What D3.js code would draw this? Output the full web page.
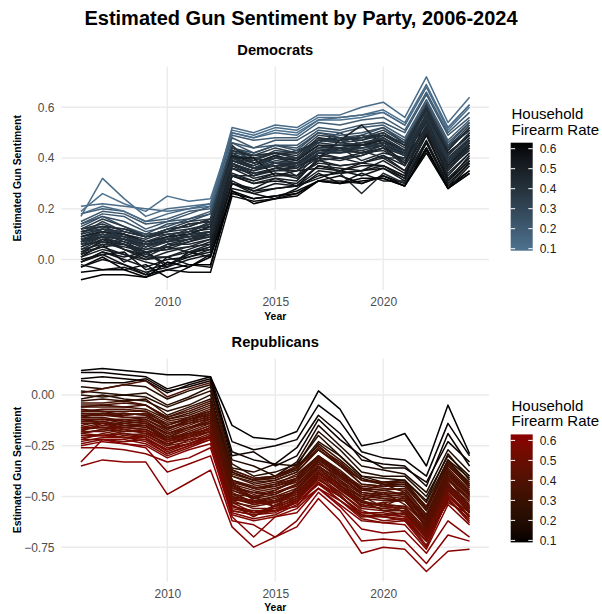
<!DOCTYPE html>
<html>
<head>
<meta charset="utf-8">
<script src="https://cdn.jsdelivr.net/npm/d3@7"></script>
<style>
  body { margin: 0; background: #fff; }
  svg { display: block; font-family: "Liberation Sans", Arial, Helvetica, sans-serif; }
</style>
</head>
<body>
<svg id="chart" width="602" height="614"></svg>
<script>
// ---- data -------------------------------------------------------------
const years = [2006,2007,2008,2009,2010,2011,2012,2013,2014,2015,2016,2017,2018,2019,2020,2021,2022,2023,2024];

const states = ["AL","AK","AZ","AR","CA","CO","CT","DE","FL","GA","HI","ID","IL","IN","IA","KS","KY","LA","ME","MD",
                "MA","MI","MN","MS","MO","MT","NE","NV","NH","NJ","NM","NY","NC","ND","OH","OK","OR","PA","RI","SC",
                "SD","TN","TX","UT","VT","VA","WA","WV","WI","WY"];

const firearmRate = [0.53,0.61,0.40,0.56,0.22,0.40,0.20,0.37,0.33,0.44,0.11,0.57,0.24,0.41,0.44,0.44,0.53,0.50,0.45,0.26,
                     0.12,0.40,0.40,0.56,0.48,0.63,0.40,0.36,0.40,0.09,0.43,0.19,0.43,0.53,0.38,0.50,0.43,0.41,0.12,0.45,
                     0.55,0.49,0.37,0.45,0.50,0.39,0.36,0.59,0.42,0.62];

// estimated sentiment among Democrats, one row per state, one value per year
const demSentiment = [
  [0.01,0.06,-0.01,0.03,-0.02,0.02,0.05,0.30,0.28,0.32,0.29,0.37,0.35,0.38,0.37,0.33,0.50,0.31,0.41],
  [-0.03,0.01,-0.04,-0.02,-0.07,-0.03,0.02,0.27,0.24,0.25,0.27,0.31,0.33,0.30,0.33,0.30,0.46,0.29,0.35],
  [0.07,0.12,0.10,0.05,0.09,0.10,0.13,0.41,0.36,0.40,0.39,0.45,0.43,0.45,0.47,0.41,0.57,0.41,0.49],
  [-0.02,-0.04,-0.03,-0.06,0.01,-0.02,-0.03,0.28,0.26,0.24,0.28,0.34,0.30,0.34,0.31,0.31,0.44,0.28,0.37],
  [0.15,0.19,0.18,0.14,0.15,0.18,0.21,0.48,0.44,0.47,0.47,0.52,0.51,0.53,0.54,0.50,0.65,0.49,0.56],
  [0.11,0.13,0.10,0.08,0.11,0.12,0.14,0.45,0.38,0.41,0.43,0.46,0.50,0.45,0.48,0.43,0.59,0.45,0.51],
  [0.14,0.18,0.17,0.12,0.15,0.16,0.19,0.46,0.44,0.45,0.45,0.51,0.50,0.52,0.53,0.48,0.63,0.47,0.55],
  [0.12,0.13,0.12,0.10,0.11,0.14,0.15,0.42,0.41,0.42,0.40,0.48,0.46,0.47,0.49,0.46,0.58,0.43,0.52],
  [0.10,0.15,0.11,0.09,0.12,0.13,0.16,0.43,0.39,0.43,0.42,0.47,0.47,0.48,0.50,0.45,0.60,0.44,0.51],
  [0.05,0.09,0.04,0.02,0.06,0.06,0.08,0.38,0.33,0.36,0.38,0.40,0.44,0.39,0.42,0.40,0.52,0.36,0.44],
  [0.17,0.32,0.24,0.17,0.20,0.21,0.22,0.51,0.49,0.52,0.51,0.56,0.56,0.57,0.59,0.54,0.69,0.52,0.61],
  [0.00,0.02,0.03,-0.04,-0.02,0.01,0.04,0.30,0.27,0.28,0.29,0.32,0.35,0.33,0.36,0.32,0.47,0.30,0.38],
  [0.14,0.17,0.15,0.11,0.13,0.16,0.18,0.46,0.42,0.45,0.44,0.50,0.49,0.50,0.52,0.47,0.62,0.46,0.54],
  [0.06,0.09,0.08,0.04,0.05,0.08,0.11,0.38,0.35,0.37,0.33,0.42,0.42,0.43,0.40,0.40,0.55,0.38,0.46],
  [0.08,0.10,0.07,0.05,0.07,0.09,0.10,0.39,0.36,0.38,0.38,0.43,0.44,0.42,0.45,0.41,0.54,0.39,0.47],
  [0.04,0.08,0.07,0.03,0.04,0.07,0.10,0.37,0.33,0.36,0.36,0.41,0.40,0.42,0.43,0.38,0.53,0.36,0.45],
  [-0.01,0.03,0.01,0.03,-0.03,0.00,0.02,0.31,0.27,0.30,0.29,0.35,0.34,0.35,0.37,0.32,0.57,0.31,0.39],
  [0.03,0.05,0.06,0.01,0.01,0.04,0.07,0.33,0.31,0.34,0.32,0.39,0.37,0.38,0.41,0.35,0.51,0.33,0.42],
  [0.08,0.10,0.09,0.07,0.08,0.11,0.12,0.40,0.37,0.40,0.38,0.44,0.45,0.44,0.46,0.43,0.56,0.40,0.48],
  [0.13,0.17,0.13,0.10,0.14,0.15,0.18,0.44,0.42,0.45,0.43,0.50,0.48,0.49,0.52,0.46,0.61,0.45,0.54],
  [0.21,0.22,0.21,0.20,0.19,0.20,0.21,0.52,0.50,0.53,0.52,0.57,0.57,0.60,0.62,0.56,0.72,0.54,0.64],
  [0.09,0.11,0.10,0.06,0.09,0.12,0.13,0.42,0.38,0.40,0.40,0.45,0.44,0.46,0.47,0.42,0.57,0.42,0.49],
  [0.11,0.12,0.11,0.09,0.10,0.11,0.15,0.41,0.39,0.42,0.40,0.47,0.46,0.45,0.49,0.44,0.59,0.41,0.50],
  [-0.01,0.02,-0.02,-0.05,-0.03,0.03,0.01,0.30,0.26,0.28,0.29,0.33,0.34,0.35,0.36,0.31,0.46,0.29,0.38],
  [0.03,0.07,0.04,0.00,0.03,0.05,0.06,0.36,0.32,0.34,0.33,0.39,0.40,0.38,0.41,0.37,0.50,0.35,0.44],
  [-0.08,-0.06,-0.06,-0.07,-0.04,-0.02,-0.02,0.27,0.22,0.24,0.25,0.31,0.30,0.31,0.32,0.29,0.42,0.28,0.34],
  [0.07,0.10,0.08,0.05,0.08,0.09,0.11,0.39,0.36,0.37,0.37,0.43,0.43,0.44,0.45,0.41,0.55,0.39,0.47],
  [0.09,0.12,0.10,0.07,0.08,0.11,0.14,0.41,0.40,0.38,0.39,0.47,0.46,0.49,0.47,0.42,0.57,0.41,0.50],
  [0.12,0.14,0.11,0.09,0.12,0.13,0.16,0.44,0.40,0.42,0.42,0.47,0.48,0.47,0.50,0.45,0.59,0.44,0.51],
  [0.19,0.26,0.22,0.19,0.25,0.23,0.24,0.50,0.48,0.51,0.50,0.55,0.55,0.56,0.58,0.53,0.68,0.51,0.60],
  [0.06,0.07,0.06,0.02,0.06,0.08,0.09,0.38,0.34,0.35,0.35,0.42,0.40,0.41,0.44,0.39,0.52,0.37,0.46],
  [0.18,0.20,0.19,0.15,0.16,0.19,0.20,0.49,0.47,0.48,0.48,0.54,0.53,0.55,0.56,0.51,0.66,0.50,0.58],
  [0.07,0.09,0.06,0.04,0.07,0.08,0.10,0.37,0.35,0.38,0.36,0.42,0.43,0.42,0.44,0.41,0.54,0.37,0.46],
  [0.02,0.05,0.02,-0.01,-0.03,0.03,0.04,0.33,0.30,0.31,0.30,0.37,0.36,0.35,0.39,0.34,0.49,0.32,0.40],
  [0.08,0.11,0.08,0.06,0.07,0.10,0.11,0.40,0.36,0.39,0.38,0.44,0.44,0.45,0.45,0.42,0.56,0.39,0.48],
  [0.01,0.04,0.02,0.00,0.01,0.03,0.05,0.33,0.30,0.32,0.31,0.40,0.47,0.53,0.45,0.38,0.57,0.37,0.45],
  [0.11,0.13,0.12,0.09,0.11,0.14,0.15,0.43,0.41,0.42,0.41,0.48,0.47,0.48,0.49,0.45,0.60,0.43,0.52],
  [0.07,0.11,0.09,0.05,0.08,0.09,0.11,0.39,0.37,0.41,0.37,0.43,0.42,0.45,0.46,0.41,0.55,0.40,0.47],
  [0.18,0.21,0.19,0.15,0.18,0.20,0.22,0.50,0.48,0.50,0.49,0.55,0.56,0.57,0.58,0.53,0.68,0.52,0.61],
  [0.04,0.06,0.05,0.03,0.04,0.05,0.08,0.33,0.33,0.35,0.37,0.40,0.39,0.41,0.44,0.37,0.52,0.36,0.43],
  [-0.01,0.03,0.00,-0.03,0.00,0.01,0.03,0.40,0.40,0.33,0.35,0.36,0.35,0.37,0.37,0.33,0.49,0.31,0.39],
  [0.02,0.08,0.04,0.01,0.05,0.03,0.06,0.34,0.31,0.33,0.33,0.38,0.37,0.38,0.40,0.35,0.51,0.34,0.42],
  [0.06,0.10,0.08,0.05,0.07,0.10,0.11,0.39,0.36,0.38,0.37,0.42,0.43,0.44,0.45,0.41,0.56,0.39,0.47],
  [0.05,0.08,0.06,0.03,0.05,0.07,0.09,0.36,0.34,0.36,0.35,0.40,0.34,0.26,0.34,0.30,0.51,0.36,0.44],
  [0.09,0.11,0.10,0.07,0.09,0.10,0.13,0.41,0.38,0.41,0.39,0.45,0.45,0.45,0.47,0.43,0.57,0.42,0.49],
  [0.10,0.12,0.09,0.07,0.10,0.11,0.14,0.40,0.38,0.40,0.40,0.46,0.45,0.46,0.48,0.43,0.57,0.41,0.50],
  [0.12,0.16,0.13,0.09,0.12,0.15,0.16,0.44,0.41,0.44,0.42,0.49,0.48,0.48,0.51,0.46,0.61,0.44,0.53],
  [-0.03,0.00,-0.02,-0.06,-0.04,-0.05,-0.05,0.25,0.23,0.24,0.26,0.31,0.31,0.30,0.33,0.29,0.43,0.28,0.34],
  [0.07,0.09,0.08,0.06,0.07,0.10,0.11,0.39,0.36,0.37,0.38,0.43,0.44,0.43,0.45,0.42,0.55,0.38,0.47],
  [-0.05,-0.04,-0.04,-0.07,-0.01,-0.03,0.01,0.26,0.24,0.25,0.26,0.31,0.30,0.32,0.32,0.29,0.44,0.28,0.35]
];

// estimated sentiment among Republicans, same layout
const repSentiment = [
  [-0.19,-0.20,-0.19,-0.21,-0.27,-0.22,-0.21,-0.53,-0.58,-0.55,-0.52,-0.41,-0.50,-0.58,-0.58,-0.60,-0.70,-0.48,-0.60],
  [-0.26,-0.26,-0.27,-0.29,-0.33,-0.31,-0.26,-0.60,-0.70,-0.60,-0.58,-0.46,-0.55,-0.66,-0.68,-0.67,-0.78,-0.62,-0.70],
  [-0.09,-0.10,-0.10,-0.09,-0.17,-0.12,-0.10,-0.43,-0.51,-0.47,-0.41,-0.31,-0.40,-0.46,-0.49,-0.48,-0.62,-0.38,-0.50],
  [-0.23,-0.21,-0.21,-0.23,-0.29,-0.25,-0.21,-0.57,-0.59,-0.57,-0.55,-0.43,-0.52,-0.60,-0.60,-0.62,-0.72,-0.52,-0.61],
  [0.00,-0.01,0.00,-0.01,-0.06,-0.02,0.02,-0.34,-0.40,-0.38,-0.34,-0.20,-0.30,-0.40,-0.41,-0.42,-0.52,-0.29,-0.42],
  [-0.08,-0.08,-0.10,-0.09,-0.14,-0.12,-0.08,-0.42,-0.46,-0.44,-0.41,-0.30,-0.39,-0.46,-0.47,-0.49,-0.60,-0.37,-0.48],
  [0.02,0.01,0.00,0.01,-0.05,-0.01,0.04,-0.36,-0.38,-0.34,-0.35,-0.18,-0.27,-0.38,-0.40,-0.40,-0.50,-0.30,-0.40],
  [-0.04,-0.04,-0.03,-0.05,-0.11,-0.07,-0.03,-0.38,-0.42,-0.40,-0.35,-0.25,-0.34,-0.42,-0.43,-0.42,-0.56,-0.32,-0.44],
  [-0.06,-0.05,-0.06,-0.07,-0.12,-0.09,-0.05,-0.40,-0.43,-0.42,-0.38,-0.27,-0.34,-0.44,-0.45,-0.45,-0.57,-0.35,-0.45],
  [-0.13,-0.13,-0.15,-0.14,-0.21,-0.16,-0.14,-0.49,-0.50,-0.55,-0.46,-0.35,-0.43,-0.52,-0.48,-0.54,-0.64,-0.44,-0.53],
  [0.11,0.11,0.10,0.09,0.03,0.06,0.09,-0.23,-0.27,-0.25,-0.22,-0.05,-0.13,-0.28,-0.31,-0.32,-0.40,-0.14,-0.30],
  [-0.24,-0.22,-0.22,-0.24,-0.30,-0.26,-0.22,-0.58,-0.61,-0.59,-0.54,-0.46,-0.52,-0.61,-0.63,-0.62,-0.75,-0.51,-0.63],
  [-0.02,0.00,-0.02,-0.03,-0.08,-0.05,0.00,-0.37,-0.41,-0.40,-0.36,-0.23,-0.30,-0.40,-0.43,-0.42,-0.53,-0.32,-0.41],
  [-0.11,-0.11,-0.13,-0.12,-0.18,-0.14,-0.12,-0.46,-0.48,-0.49,-0.44,-0.33,-0.42,-0.49,-0.50,-0.51,-0.62,-0.41,-0.52],
  [-0.15,-0.13,-0.15,-0.16,-0.21,-0.19,-0.15,-0.44,-0.52,-0.50,-0.48,-0.37,-0.45,-0.52,-0.55,-0.50,-0.66,-0.45,-0.54],
  [-0.17,-0.15,-0.16,-0.15,-0.23,-0.19,-0.17,-0.50,-0.54,-0.52,-0.47,-0.36,-0.45,-0.50,-0.55,-0.56,-0.67,-0.41,-0.55],
  [-0.20,-0.20,-0.21,-0.20,-0.26,-0.24,-0.20,-0.55,-0.57,-0.57,-0.52,-0.42,-0.48,-0.57,-0.60,-0.58,-0.71,-0.50,-0.58],
  [-0.18,-0.18,-0.20,-0.19,-0.24,-0.22,-0.18,-0.52,-0.56,-0.56,-0.51,-0.40,-0.48,-0.56,-0.57,-0.59,-0.70,-0.47,-0.58],
  [-0.16,-0.14,-0.16,-0.17,-0.22,-0.20,-0.16,-0.50,-0.52,-0.53,-0.48,-0.38,-0.46,-0.53,-0.54,-0.55,-0.68,-0.45,-0.56],
  [-0.03,-0.02,-0.03,-0.02,-0.10,-0.06,-0.02,-0.38,-0.42,-0.41,-0.37,-0.24,-0.32,-0.41,-0.44,-0.44,-0.55,-0.33,-0.43],
  [0.08,0.09,0.08,0.07,0.01,0.05,0.08,-0.28,-0.32,-0.34,-0.26,-0.10,-0.19,-0.32,-0.34,-0.35,-0.45,-0.19,-0.35],
  [-0.11,-0.09,-0.11,-0.12,-0.17,-0.13,-0.11,-0.45,-0.49,-0.47,-0.42,-0.33,-0.41,-0.48,-0.50,-0.49,-0.63,-0.40,-0.49],
  [-0.10,-0.10,-0.09,-0.10,-0.16,-0.13,-0.09,-0.44,-0.47,-0.45,-0.42,-0.32,-0.39,-0.47,-0.48,-0.49,-0.61,-0.39,-0.49],
  [-0.21,-0.20,-0.21,-0.22,-0.27,-0.24,-0.21,-0.55,-0.58,-0.57,-0.53,-0.43,-0.50,-0.58,-0.59,-0.60,-0.72,-0.50,-0.60],
  [-0.17,-0.16,-0.18,-0.17,-0.23,-0.21,-0.16,-0.51,-0.54,-0.52,-0.49,-0.38,-0.47,-0.54,-0.56,-0.57,-0.68,-0.46,-0.57],
  [-0.35,-0.32,-0.33,-0.33,-0.49,-0.43,-0.37,-0.65,-0.75,-0.70,-0.65,-0.51,-0.62,-0.78,-0.75,-0.76,-0.87,-0.77,-0.76],
  [-0.13,-0.12,-0.14,-0.13,-0.20,-0.16,-0.12,-0.47,-0.51,-0.49,-0.44,-0.35,-0.42,-0.51,-0.52,-0.52,-0.65,-0.42,-0.51],
  [-0.06,-0.06,-0.06,-0.05,-0.12,-0.10,-0.06,-0.40,-0.44,-0.42,-0.38,-0.27,-0.35,-0.44,-0.45,-0.44,-0.57,-0.34,-0.46],
  [-0.08,-0.07,-0.07,-0.08,-0.13,-0.11,-0.08,-0.42,-0.45,-0.43,-0.40,-0.30,-0.38,-0.45,-0.46,-0.47,-0.59,-0.36,-0.47],
  [0.12,0.13,0.12,0.11,0.10,0.10,0.09,-0.15,-0.21,-0.22,-0.18,0.02,-0.07,-0.25,-0.23,-0.19,-0.35,-0.05,-0.29],
  [-0.14,-0.14,-0.14,-0.15,-0.21,-0.17,-0.13,-0.48,-0.53,-0.50,-0.46,-0.36,-0.44,-0.55,-0.53,-0.52,-0.65,-0.43,-0.58],
  [0.04,0.03,0.05,0.04,-0.02,0.02,0.05,-0.32,-0.35,-0.40,-0.33,-0.15,-0.25,-0.35,-0.37,-0.39,-0.48,-0.27,-0.38],
  [-0.12,-0.12,-0.12,-0.13,-0.19,-0.15,-0.11,-0.46,-0.50,-0.48,-0.44,-0.34,-0.40,-0.49,-0.51,-0.52,-0.63,-0.41,-0.51],
  [-0.22,-0.19,-0.21,-0.21,-0.28,-0.24,-0.20,-0.56,-0.58,-0.56,-0.53,-0.44,-0.50,-0.59,-0.60,-0.61,-0.72,-0.49,-0.60],
  [0.01,0.03,0.05,0.07,-0.01,0.03,0.06,-0.37,-0.41,-0.40,-0.36,-0.26,-0.33,-0.42,-0.43,-0.43,-0.55,-0.34,-0.44],
  [-0.19,-0.17,-0.19,-0.20,-0.25,-0.23,-0.19,-0.54,-0.60,-0.54,-0.51,-0.41,-0.49,-0.60,-0.59,-0.58,-0.69,-0.53,-0.59],
  [-0.14,-0.14,-0.15,-0.15,-0.22,-0.18,-0.14,-0.49,-0.53,-0.51,-0.47,-0.36,-0.44,-0.53,-0.54,-0.55,-0.66,-0.44,-0.55],
  [-0.10,-0.10,-0.11,-0.11,-0.16,-0.14,-0.10,-0.45,-0.48,-0.46,-0.43,-0.32,-0.40,-0.48,-0.49,-0.50,-0.61,-0.40,-0.50],
  [0.07,0.06,0.06,0.08,0.02,0.04,0.07,-0.30,-0.28,-0.35,-0.30,-0.12,-0.22,-0.30,-0.36,-0.36,-0.43,-0.23,-0.33],
  [-0.16,-0.16,-0.16,-0.17,-0.22,-0.19,-0.15,-0.51,-0.53,-0.52,-0.48,-0.38,-0.46,-0.53,-0.55,-0.56,-0.67,-0.45,-0.56],
  [-0.22,-0.22,-0.23,-0.22,-0.29,-0.25,-0.22,-0.57,-0.59,-0.58,-0.53,-0.44,-0.52,-0.59,-0.62,-0.61,-0.74,-0.51,-0.62],
  [-0.18,-0.14,-0.17,-0.19,-0.24,-0.21,-0.18,-0.52,-0.52,-0.55,-0.50,-0.39,-0.44,-0.55,-0.53,-0.58,-0.69,-0.46,-0.57],
  [-0.07,-0.08,-0.08,-0.08,-0.15,-0.11,-0.07,-0.42,-0.46,-0.44,-0.39,-0.30,-0.37,-0.46,-0.47,-0.46,-0.59,-0.37,-0.48],
  [-0.19,-0.17,-0.18,-0.18,-0.25,-0.20,-0.18,-0.53,-0.55,-0.53,-0.50,-0.40,-0.46,-0.52,-0.57,-0.57,-0.68,-0.47,-0.58],
  [-0.16,-0.16,-0.17,-0.18,-0.23,-0.20,-0.17,-0.51,-0.53,-0.53,-0.49,-0.39,-0.46,-0.55,-0.56,-0.55,-0.68,-0.46,-0.56],
  [-0.09,-0.09,-0.09,-0.10,-0.15,-0.12,-0.09,-0.43,-0.46,-0.45,-0.41,-0.31,-0.38,-0.47,-0.44,-0.48,-0.60,-0.38,-0.49],
  [-0.05,-0.05,-0.04,-0.05,-0.11,-0.08,-0.04,-0.39,-0.42,-0.41,-0.36,-0.27,-0.35,-0.42,-0.44,-0.43,-0.56,-0.33,-0.45],
  [-0.25,-0.23,-0.24,-0.25,-0.31,-0.27,-0.24,-0.59,-0.62,-0.60,-0.56,-0.46,-0.54,-0.62,-0.63,-0.64,-0.76,-0.54,-0.64],
  [-0.12,-0.12,-0.13,-0.14,-0.19,-0.16,-0.13,-0.47,-0.50,-0.48,-0.45,-0.35,-0.43,-0.50,-0.51,-0.52,-0.64,-0.42,-0.52],
  [-0.33,-0.22,-0.24,-0.26,-0.38,-0.34,-0.30,-0.62,-0.64,-0.70,-0.62,-0.48,-0.57,-0.72,-0.71,-0.72,-0.83,-0.69,-0.72]
];

const xTickValues = [2010, 2015, 2020];
const demYTicks = [0.0, 0.2, 0.4, 0.6];
const repYTicks = [-0.75, -0.50, -0.25, 0.00];
const legendTicks = [0.1, 0.2, 0.3, 0.4, 0.5, 0.6];

// ---- layout -----------------------------------------------------------
const svg = d3.select("#chart");
const plotLeft = 61.5, plotRight = 489;
const gridColor = "#ebebeb";
const axisTextColor = "#4d4d4d";

svg.append("rect").attr("width", 602).attr("height", 614).attr("fill", "#fff");

svg.append("text")
  .attr("x", 301).attr("y", 25)
  .attr("text-anchor", "middle")
  .attr("font-size", 20).attr("font-weight", "bold")
  .attr("fill", "#000")
  .text("Estimated Gun Sentiment by Party, 2006-2024");

// x scale with 5% padding on each side of the year range
const yrExt = d3.extent(years);
const yrPad = (yrExt[1] - yrExt[0]) * 0.05;
const x = d3.scaleLinear().domain([yrExt[0] - yrPad, yrExt[1] + yrPad]).range([plotLeft, plotRight]);

const rateExtent = d3.extent(firearmRate);

function drawPanel(cfg) {
  const g = svg.append("g");
  const all = cfg.values.flat();
  const ext = d3.extent(all);
  const pad = (ext[1] - ext[0]) * 0.05;
  const y = d3.scaleLinear().domain([ext[0] - pad, ext[1] + pad]).range([cfg.bottom, cfg.top]);
  const color = d3.scaleLinear().domain(rateExtent).range([cfg.low, cfg.high]).interpolate(d3.interpolateLab);

  // grid
  g.append("g").selectAll("line").data(cfg.yTicks).join("line")
    .attr("x1", plotLeft).attr("x2", plotRight)
    .attr("y1", d => y(d)).attr("y2", d => y(d))
    .attr("stroke", gridColor).attr("stroke-width", 1.4);
  g.append("g").selectAll("line").data(xTickValues).join("line")
    .attr("x1", d => x(d)).attr("x2", d => x(d))
    .attr("y1", cfg.top).attr("y2", cfg.bottom)
    .attr("stroke", gridColor).attr("stroke-width", 1.4);

  // axes (labels only)
  const ya = g.append("g").attr("transform", `translate(${plotLeft},0)`)
    .call(d3.axisLeft(y).tickValues(cfg.yTicks).tickSize(0).tickPadding(7).tickFormat(cfg.fmt));
  ya.select(".domain").remove();
  ya.attr("font-family", null).attr("font-size", null);
  ya.selectAll("text").attr("fill", axisTextColor).attr("font-size", 12);

  const xa = g.append("g").attr("transform", `translate(0,${cfg.bottom})`)
    .call(d3.axisBottom(x).tickValues(xTickValues).tickSize(0).tickPadding(7.5).tickFormat(d3.format("d")));
  xa.select(".domain").remove();
  xa.attr("font-family", null).attr("font-size", null);
  xa.selectAll("text").attr("fill", axisTextColor).attr("font-size", 12);

  // axis titles
  g.append("text")
    .attr("x", (plotLeft + plotRight) / 2).attr("y", cfg.bottom + 29.5)
    .attr("text-anchor", "middle").attr("font-size", 10.4).attr("font-weight", "bold")
    .text("Year");
  g.append("text")
    .attr("transform", `translate(21,${(cfg.top + cfg.bottom) / 2}) rotate(-90)`)
    .attr("text-anchor", "middle").attr("font-size", 10.4).attr("font-weight", "bold")
    .text("Estimated Gun Sentiment");

  // panel title
  g.append("text")
    .attr("x", (plotLeft + plotRight) / 2).attr("y", cfg.top - 11.5)
    .attr("text-anchor", "middle").attr("font-size", 14.7).attr("font-weight", "bold")
    .text(cfg.title);

  // one line per state
  const line = d3.line().x((d, i) => x(years[i])).y(d => y(d));
  g.append("g").selectAll("path").data(cfg.values).join("path")
    .attr("d", line)
    .attr("fill", "none")
    .attr("stroke", (d, i) => color(firearmRate[i]))
    .attr("stroke-width", 1.5)
    .attr("stroke-linejoin", "round")
    .attr("stroke-linecap", "butt");

  // colour bar legend
  const lx = 510.7, barW = 22;
  const barTop = cfg.top + 76, barBottom = cfg.top + 184;
  const lg = svg.append("g");
  lg.append("text").attr("x", 511.5).attr("y", cfg.top + 52.5)
    .attr("font-size", 15).attr("fill", "#000").text("Household");
  lg.append("text").attr("x", 511.5).attr("y", cfg.top + 68)
    .attr("font-size", 15).attr("fill", "#000").text("Firearm Rate");

  const gradId = "grad-" + cfg.key;
  const grad = svg.append("defs").append("linearGradient")
    .attr("id", gradId).attr("x1", 0).attr("y1", 1).attr("x2", 0).attr("y2", 0);
  d3.range(0, 1.0001, 0.05).forEach(t => {
    grad.append("stop").attr("offset", t)
      .attr("stop-color", color(rateExtent[0] + t * (rateExtent[1] - rateExtent[0])));
  });
  lg.append("rect").attr("x", lx).attr("y", barTop).attr("width", barW).attr("height", barBottom - barTop)
    .attr("fill", `url(#${gradId})`);

  const ly = d3.scaleLinear().domain(rateExtent).range([barBottom, barTop]);
  const tickLen = barW / 5;
  lg.selectAll(".tl").data(legendTicks).join("line")
    .attr("x1", lx).attr("x2", lx + tickLen)
    .attr("y1", d => ly(d)).attr("y2", d => ly(d))
    .attr("stroke", "#fff").attr("stroke-width", 1);
  lg.selectAll(".tr").data(legendTicks).join("line")
    .attr("x1", lx + barW - tickLen).attr("x2", lx + barW)
    .attr("y1", d => ly(d)).attr("y2", d => ly(d))
    .attr("stroke", "#fff").attr("stroke-width", 1);
  lg.selectAll(".lt").data(legendTicks).join("text")
    .attr("x", lx + barW + 7).attr("y", d => ly(d)).attr("dy", "0.35em")
    .attr("font-size", 12).attr("fill", "#1a1a1a")
    .text(d => d3.format(".1f")(d));
}

drawPanel({
  key: "dem", title: "Democrats", values: demSentiment,
  top: 66.7, bottom: 290, yTicks: demYTicks, fmt: d3.format(".1f"),
  low: "#4e7391", high: "#000000"
});

drawPanel({
  key: "rep", title: "Republicans", values: repSentiment,
  top: 358.4, bottom: 581.7, yTicks: repYTicks, fmt: d3.format(".2f"),
  low: "#000000", high: "#8b0000"
});
</script>
</body>
</html>
